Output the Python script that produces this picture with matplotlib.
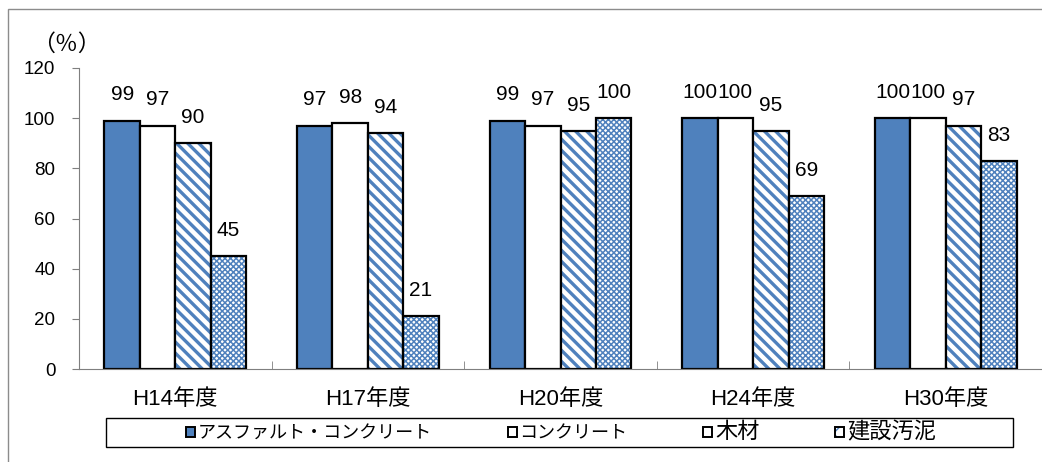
import matplotlib
matplotlib.use("Agg")
import matplotlib.pyplot as plt
import matplotlib.colors as mcolors
import numpy as np
from matplotlib.patches import Rectangle, Patch

plt.rcParams['font.family'] = ['Liberation Sans', 'Noto Sans CJK JP', 'DejaVu Sans']

categories = ['H14年度', 'H17年度', 'H20年度', 'H24年度', 'H30年度']
series_names = ['アスファルト・コンクリート', 'コンクリート', '木材', '建設汚泥']
asphalt = [99, 97, 99, 100, 100]
concrete = [97, 98, 97, 100, 100]
wood = [90, 94, 95, 95, 97]
sludge = [45, 21, 100, 69, 83]
yticks = [0, 20, 40, 60, 80, 100, 120]

BLUE = '#4F81BD'
BLUE_RGBA = mcolors.to_rgba(BLUE)
styles = [
    dict(facecolor=BLUE, hatch=None, hlw=1.0),
    dict(facecolor='white', hatch=None, hlw=1.0),
    dict(facecolor='white', hatch='\\\\\\', hlw=2.4),
    dict(facecolor='white', hatch='xxxxxx', hlw=1.1),
]


def set_hatch(p, lw):
    p._hatch_color = BLUE_RGBA
    if hasattr(p, 'set_hatch_linewidth'):
        p.set_hatch_linewidth(lw)


fig = plt.figure(figsize=(10.42, 4.62), dpi=100)
ax = fig.add_axes([79/1042, 93/462, (1042-79)/1042, 301/462])

x = np.arange(len(categories))
bw = 0.184
data = [asphalt, concrete, wood, sludge]
handles = []
for i, (vals, st) in enumerate(zip(data, styles)):
    off = (i - 1.5) * bw
    with plt.rc_context({'hatch.color': BLUE, 'hatch.linewidth': st['hlw']}):
        bars = ax.bar(x + off, vals, bw, facecolor=st['facecolor'], edgecolor='black',
                      linewidth=1.6, hatch=st['hatch'], zorder=2)
        for b in bars:
            set_hatch(b, st['hlw'])
    with plt.rc_context({'hatch.color': BLUE, 'hatch.linewidth': 1.0}):
        h = Patch(facecolor=st['facecolor'], edgecolor='black', linewidth=1.4,
                  hatch=(st['hatch'][:2] if st['hatch'] else None), label=series_names[i])
        set_hatch(h, 1.0)
        handles.append(h)
    for xi, v in zip(x + off, vals):
        ax.annotate(str(v), (xi, v), xytext=(0, 18.5), textcoords='offset points',
                    ha='center', va='center', fontsize=15)

ax.set_xlim(-0.5, 4.5)
ax.set_ylim(0, 120)
ax.set_yticks(yticks)
ax.set_yticklabels([str(t) for t in yticks], fontsize=13.5)
ax.set_xticks(x)
ax.set_xticklabels(categories, fontsize=16)
ax.set_xticks(np.arange(0.5, 4.5, 1.0), minor=True)
ax.tick_params(axis='x', which='major', length=0, pad=14.5)
ax.tick_params(axis='x', which='minor', direction='in', length=6, color='#7f7f7f')
ax.tick_params(axis='y', which='major', direction='out', length=5, color='#7f7f7f', pad=12)
for s in ['top', 'right']:
    ax.spines[s].set_visible(False)
ax.spines['left'].set_color('#7f7f7f')
ax.spines['bottom'].set_color('#7f7f7f')

fig.text(66/1042, 1 - 44/462, '（％）', ha='center', va='center', fontsize=16.5,
         family=['Noto Sans CJK JP', 'DejaVu Sans'])

# outer chart frame
fig.add_artist(Rectangle((8/1042, -0.1), 1.2, (462-9)/462 + 0.1, transform=fig.transFigure,
                         fill=False, edgecolor='#8c8c8c', linewidth=1.0))
# legend frame
fig.add_artist(Rectangle((106/1042, (462-447)/462), (1013-106)/1042, 29/462,
                         transform=fig.transFigure, fill=False, edgecolor='black', linewidth=1.0))
leg = fig.legend(handles=handles, ncol=4, loc='center', bbox_to_anchor=(561/1042, (462-432.5)/462),
                 frameon=False, fontsize=13, handlelength=0.5, handleheight=0.5,
                 handletextpad=0.15, columnspacing=4.2, borderpad=0)
for t in leg.get_texts()[2:]:
    t.set_fontsize(16)
for lh in leg.legend_handles:
    set_hatch(lh, 1.0)

fig.savefig('out.png', dpi=100)
